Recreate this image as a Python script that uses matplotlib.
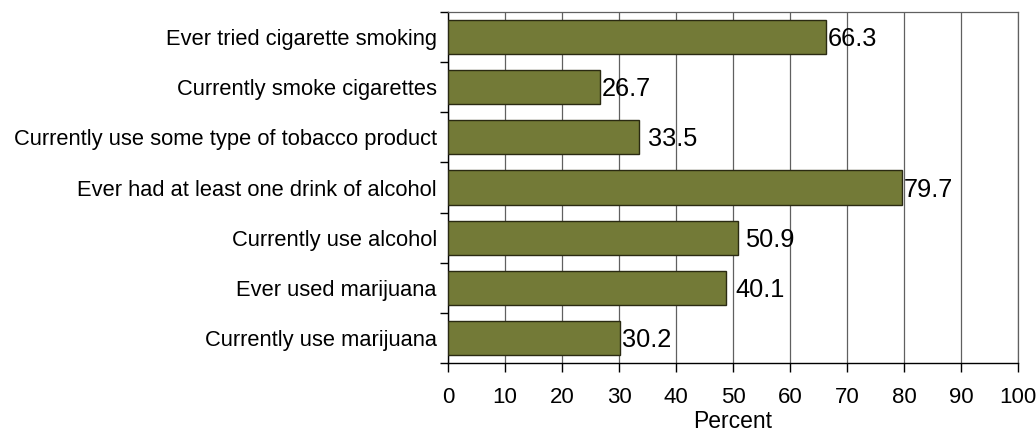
import matplotlib.pyplot as plt
from matplotlib.ticker import MultipleLocator

categories = ['Ever tried cigarette smoking', 'Currently smoke cigarettes',
              'Currently use some type of tobacco product',
              'Ever had at least one drink of alcohol', 'Currently use alcohol',
              'Ever used marijuana', 'Currently use marijuana']
bar_values = [66.3, 26.7, 33.5, 79.7, 50.9, 48.8, 30.2]
value_labels = ['66.3', '26.7', '33.5', '79.7', '50.9', '40.1', '30.2']
label_gap = [0.3, 0.3, 1.6, 0.3, 1.2, 1.6, 0.3]
xticks = [0, 10, 20, 30, 40, 50, 60, 70, 80, 90, 100]

plt.rcParams['font.family'] = ['Liberation Sans', 'DejaVu Sans']

fig = plt.figure(figsize=(10.36, 4.36), dpi=100)
ax = fig.add_axes([448 / 1036, 1 - 363 / 436, 570 / 1036, 351 / 436])

ypos = list(range(len(categories)))
ax.barh(ypos, bar_values, height=0.68, color='#737a37', edgecolor='#2a2a12',
        linewidth=1, zorder=3)
for y, v, t, g in zip(ypos, bar_values, value_labels, label_gap):
    ax.text(v + g, y + 0.04, t, va='center', ha='left', fontsize=18.3, zorder=4)

ax.set_xlim(0, 100)
ax.set_ylim(len(categories) - 0.5, -0.5)
ax.set_xticks(xticks)
ax.set_xticklabels([str(x) for x in xticks], fontsize=16)
ax.xaxis.grid(True, color='#606060', linewidth=0.9, zorder=0)
ax.set_xlabel('Percent', fontsize=16.5, labelpad=1)

ax.set_yticks(ypos)
ax.set_yticklabels(categories, fontsize=15.75)
ax.yaxis.set_minor_locator(MultipleLocator(1, offset=0.5))
ax.tick_params(axis='y', which='major', length=0, pad=8)
ax.tick_params(axis='y', which='minor', length=6, width=1, direction='out')
ax.tick_params(axis='x', length=6.5, width=1, direction='out', pad=11)

for s in ['top', 'right']:
    ax.spines[s].set_color('#606060')
    ax.spines[s].set_linewidth(0.9)
for s in ['left', 'bottom']:
    ax.spines[s].set_color('black')
    ax.spines[s].set_linewidth(1)

fig.savefig('out.png', dpi=100)
